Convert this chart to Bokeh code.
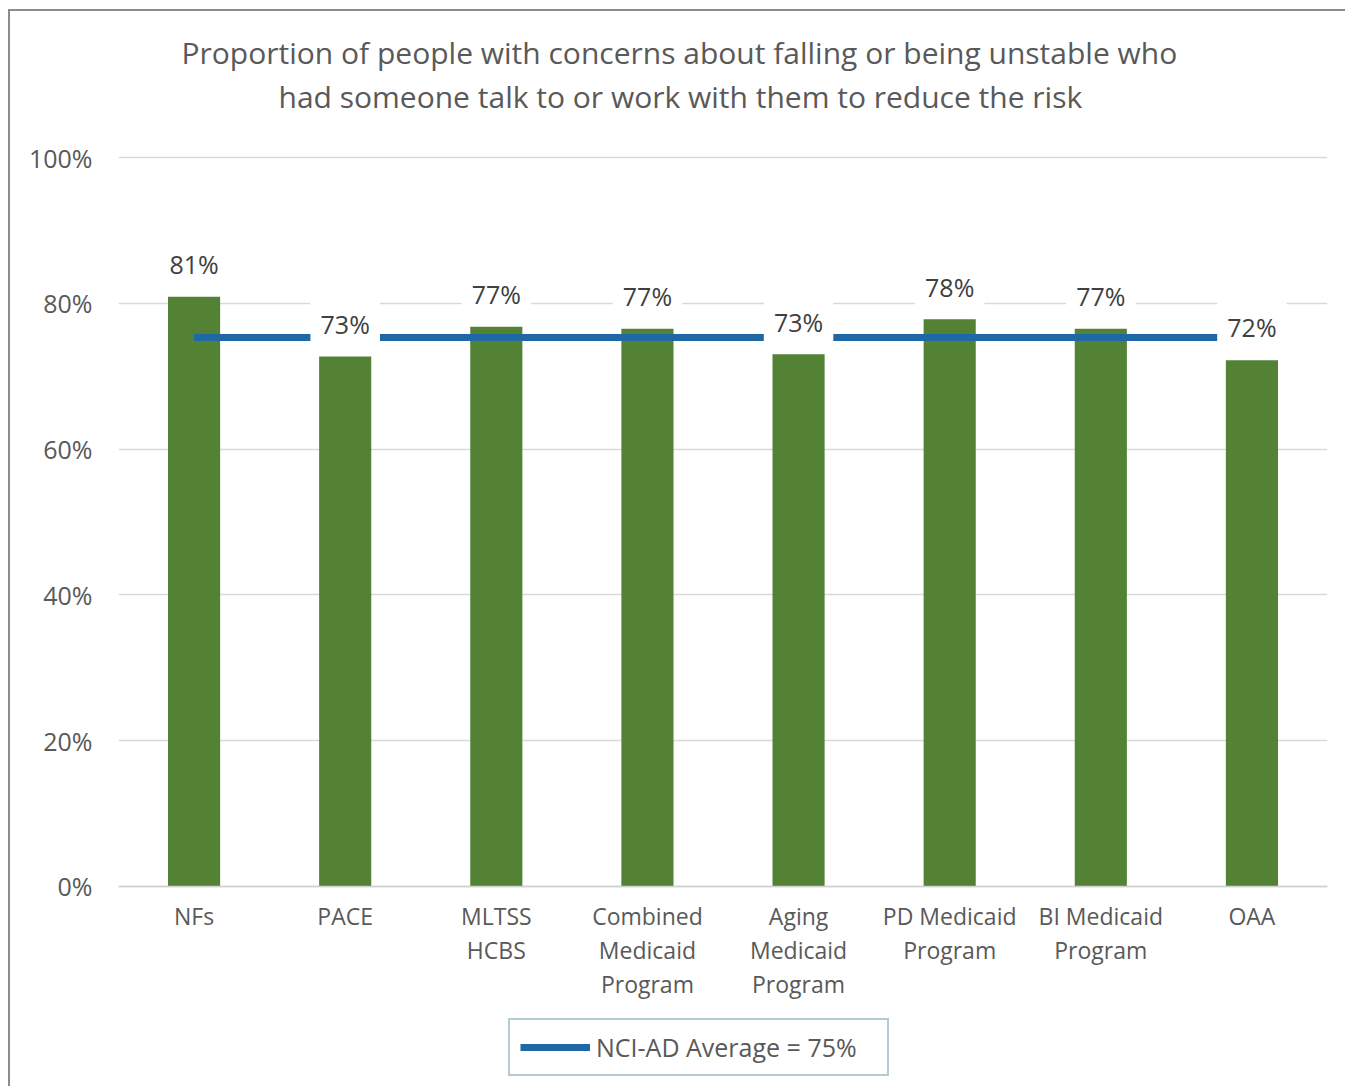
from bokeh.plotting import figure
from bokeh.models import Range1d, FixedTicker, PrintfTickFormatter, Title, Legend, LegendItem
from bokeh.embed import file_html
from bokeh.resources import INLINE
from bokeh.core.properties import value

title_lines = [
    "Proportion of people with concerns about falling or being unstable who",
    "had someone talk to or work with them to reduce the risk",
]
categories = ["NFs", "PACE", "MLTSS\nHCBS", "Combined\nMedicaid\nProgram",
              "Aging\nMedicaid\nProgram", "PD Medicaid\nProgram", "BI Medicaid\nProgram", "OAA"]
values = [80.9, 72.7, 76.8, 76.5, 73.0, 77.8, 76.5, 72.2]
value_labels = ["81%", "73%", "77%", "77%", "73%", "78%", "77%", "72%"]
average = 75.3
average_label = "NCI-AD Average = 75%"
y_ticks = [0, 20, 40, 60, 80, 100]

FONT = "Open Sans"
GRAY = "#595959"

# the frame spans from just under the titles to the bottom of the canvas;
# the category axis sits at y = 0 and grid lines only at 0..100
p = figure(x_range=categories, y_range=Range1d(-27.71, 105.49),
           width=1337, height=1077, output_backend="svg", toolbar_location=None,
           min_border_left=108, min_border_right=20, min_border_top=106, min_border_bottom=0,
           title=title_lines[0])
p.styles = {"margin-left": "8px", "margin-top": "9px", "border-left": "2px solid #8c8c8c",
            "border-top": "2px solid #8c8c8c"}
p.outline_line_color = None
p.background_fill_color = "white"
p.border_fill_color = "white"

# titles (outer line is p.title, inner line added after)
p.title.align = "left"
p.title.offset = 63
p.title.standoff = 0
p.title.text_font = FONT
p.title.text_font_size = "30px"
p.title.text_font_style = "normal"
p.title.text_color = GRAY
t2 = Title(text=title_lines[1], align="left", offset=160, standoff=2,
           text_font=FONT, text_font_size="30px", text_font_style="normal", text_color=GRAY)
p.add_layout(t2, "above")

# grid / axes
p.xgrid.grid_line_color = None
p.ygrid.ticker = FixedTicker(ticks=y_ticks)
p.ygrid.grid_line_color = "#d9d9d9"
p.ygrid.grid_line_width = 1.5

p.yaxis.ticker = FixedTicker(ticks=y_ticks)
p.yaxis.formatter = PrintfTickFormatter(format="%d%%")
p.yaxis.axis_line_color = None
p.yaxis.major_tick_line_color = None
p.yaxis.minor_tick_line_color = None
p.yaxis.major_tick_out = 0
p.yaxis.major_tick_in = 0
p.yaxis.major_label_standoff = 26
p.yaxis.major_label_text_font = FONT
p.yaxis.major_label_text_font_size = "25px"
p.yaxis.major_label_text_color = GRAY

p.xaxis.fixed_location = 0
p.xaxis.axis_line_color = "#d0d0d0"
p.xaxis.axis_line_width = 1.5
p.xaxis.major_tick_line_color = None
p.xaxis.major_tick_out = 0
p.xaxis.major_tick_in = 0
p.xaxis.major_label_standoff = 14
p.xaxis.major_label_text_font = FONT
p.xaxis.major_label_text_font_size = "23px"
p.xaxis.major_label_text_color = GRAY
p.xaxis.major_label_text_line_height = 1.05

# bars
p.vbar(x=categories, top=values, width=0.345, fill_color="#548235", line_color=None)

# average line
avg_r = p.line(x=[categories[0], categories[-1]], y=[average, average],
               line_color="#1f68a6", line_width=7)

# data labels with white boxes
label_y = [v + 4.5 for v in values]
p.rect(x=categories, y=label_y, width=0.46, height=6.9, fill_color="white", line_color=None)
p.text(x=categories, y=label_y, text=value_labels, text_align="center", text_baseline="middle",
       text_font=value(FONT), text_font_size="25px", text_color="#404040")

legend = Legend(items=[LegendItem(label=average_label, renderers=[avg_r])],
                location=(390, 12), orientation="horizontal",
                padding=10, margin=0, spacing=0,
                glyph_width=70, glyph_height=28, label_standoff=6, label_width=281,
                label_text_font=FONT, label_text_font_size="25px", label_text_color=GRAY,
                border_line_color="#6a98a3", border_line_width=2,
                background_fill_color="white", background_fill_alpha=1)
p.add_layout(legend, "center")

open("out.html", "w").write(file_html(p, INLINE))
